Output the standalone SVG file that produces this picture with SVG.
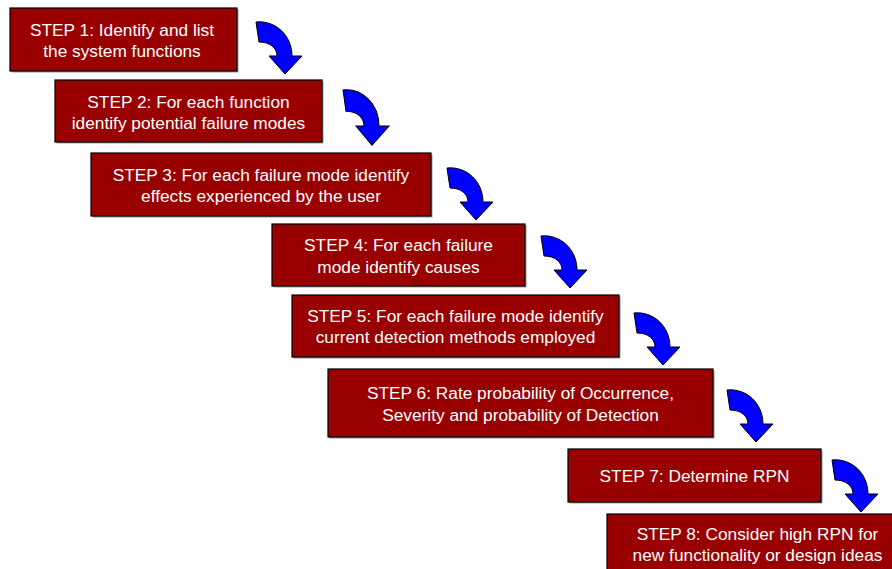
<svg xmlns="http://www.w3.org/2000/svg" width="892" height="569" viewBox="0 0 892 569">
<style>
.box{fill:#990000;stroke:#000;stroke-width:1.2}
.sh{fill:#999999}
.t{font-family:"Liberation Sans",Arial,sans-serif;font-size:17.3px;fill:#fff;text-anchor:middle}
.arr{fill:#0000ff;stroke:#000;stroke-width:1;stroke-linejoin:miter}
</style>
<defs>
<path id="ar" d="M0,0 C19,-2 36,13 36,34 L46,34 L29,52 L13,34 L21,34 C21,26 14,20 3,20 Z"/>
</defs>
<rect width="892" height="569" fill="#fff"/>
<g id="connectors">
<use href="#ar" class="arr" transform="translate(256,22)"/>
<use href="#ar" class="arr" transform="translate(343,90) scale(1,1.06)"/>
<use href="#ar" class="arr" transform="translate(447,168)"/>
<use href="#ar" class="arr" transform="translate(541,236)"/>
<use href="#ar" class="arr" transform="translate(634,313)"/>
<use href="#ar" class="arr" transform="translate(727,390)"/>
<use href="#ar" class="arr" transform="translate(832,460)"/>
</g>
<g id="step1">
<rect class="sh" x="11.5" y="9.5" width="227" height="63"/>
<rect class="box" x="10" y="8" width="227" height="63"/>
<text class="t" x="122" y="36">STEP 1: Identify and list</text>
<text class="t" x="122" y="56.5">the system functions</text>
</g>
<g id="step2">
<rect class="sh" x="56.5" y="81.5" width="267" height="62"/>
<rect class="box" x="55" y="80" width="267" height="62"/>
<text class="t" x="188.5" y="107.5">STEP 2: For each function</text>
<text class="t" x="188.5" y="128.5">identify potential failure modes</text>
</g>
<g id="step3">
<rect class="sh" x="92.5" y="154.5" width="340" height="63"/>
<rect class="box" x="91" y="153" width="340" height="63"/>
<text class="t" x="261" y="181">STEP 3: For each failure mode identify</text>
<text class="t" x="261" y="202">effects experienced by the user</text>
</g>
<g id="step4">
<rect class="sh" x="273.5" y="225.5" width="253" height="62"/>
<rect class="box" x="272" y="224" width="253" height="62"/>
<text class="t" x="398.5" y="251">STEP 4: For each failure</text>
<text class="t" x="398.5" y="272.5">mode identify causes</text>
</g>
<g id="step5">
<rect class="sh" x="293.5" y="296.5" width="327" height="62"/>
<rect class="box" x="292" y="295" width="327" height="62"/>
<text class="t" x="455.5" y="321.5">STEP 5: For each failure mode identify</text>
<text class="t" x="455.5" y="343">current detection methods employed</text>
</g>
<g id="step6">
<rect class="sh" x="329.5" y="370.5" width="385" height="68"/>
<rect class="box" x="328" y="369" width="385" height="68"/>
<text class="t" x="520.5" y="398.5">STEP 6: Rate probability of Occurrence,</text>
<text class="t" x="520.5" y="420.5">Severity and probability of Detection</text>
</g>
<g id="step7">
<rect class="sh" x="569.5" y="450.5" width="253" height="53"/>
<rect class="box" x="568" y="449" width="253" height="53"/>
<text class="t" x="694.5" y="482">STEP 7: Determine RPN</text>
</g>
<g id="step8">
<rect class="box" x="607" y="514" width="302" height="64"/>
<text class="t" x="757.5" y="539.5">STEP 8: Consider high RPN for</text>
<text class="t" x="757.5" y="560.5">new functionality or design ideas</text>
</g>
</svg>
